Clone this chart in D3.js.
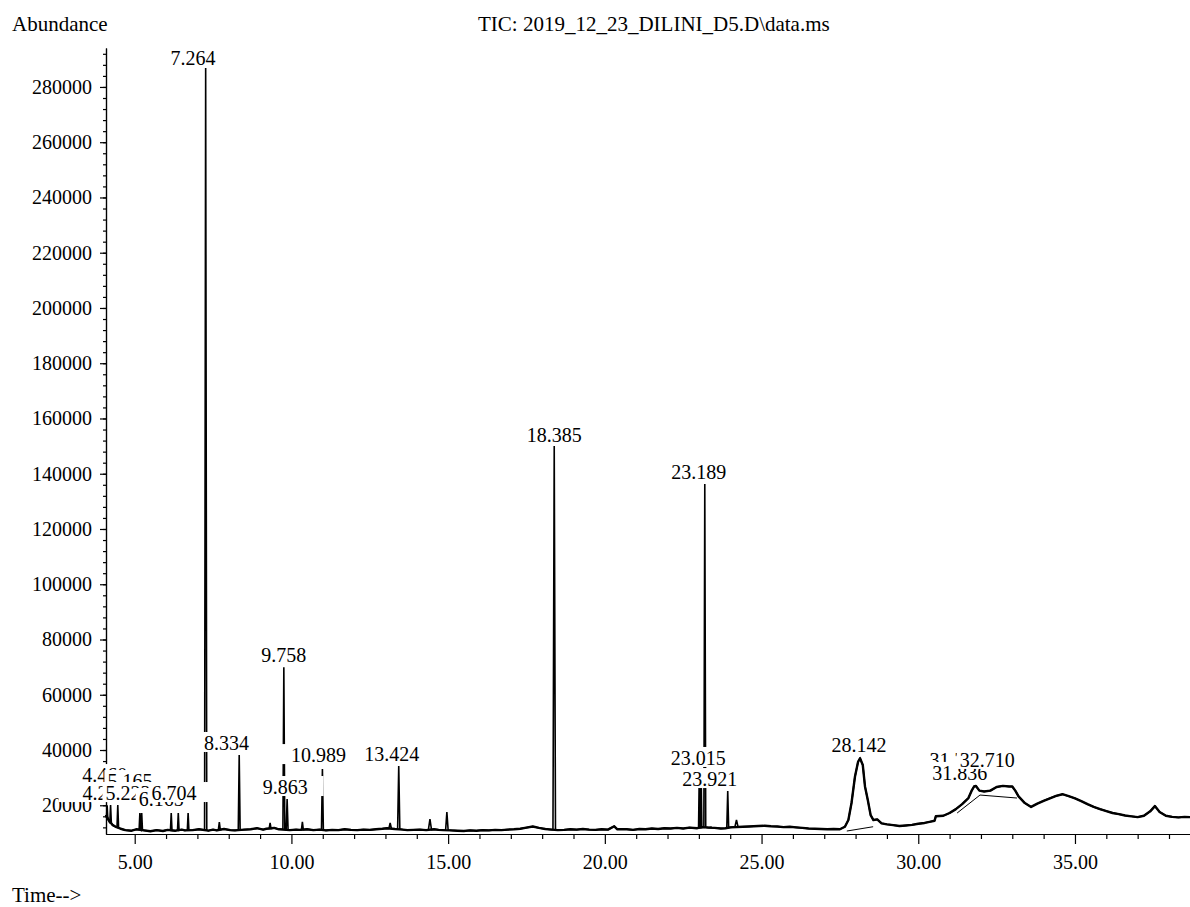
<!DOCTYPE html>
<html>
<head>
<meta charset="utf-8">
<script src="https://cdn.jsdelivr.net/npm/d3@7"></script>
<style>
  body { margin: 0; background: #fff; }
  svg { display: block; font-family: "Liberation Serif", "Times New Roman", serif; }
  .axis path, .axis line { stroke: #000; stroke-width: 1.2; }
  .axis text { fill: #000; font-size: 20px; font-family: "Liberation Serif", "Times New Roman", serif; }
</style>
</head>
<body>
<svg id="chart" width="1190" height="907"></svg>
<script>
// ---------- Data ----------
// baseline of the TIC trace: [time (min), abundance]
const baseline = [
  [4.08,16500],[4.16,14800],[4.3,12800],[4.38,12300],[4.55,11500],[4.7,11000],[4.9,10800],
  [5.05,11300],[5.3,10900],[5.5,10600],[5.7,11000],[5.9,10700],[6.05,11100],[6.3,10800],
  [6.5,11200],[6.6,10900],[6.85,11000],[7.05,11300],[7.35,10800],[7.5,11200],[7.62,10900],
  [7.85,11400],[8.05,11000],[8.2,10900],[8.5,11200],[8.7,11300],[8.9,11700],[9.1,11200],
  [9.2,11500],[9.45,11800],[9.6,11300],[9.95,11000],[10.15,11200],[10.25,11100],[10.5,11300],
  [10.7,11000],[10.9,11200],[11.1,10900],[11.3,11100],[11.5,11000],[11.7,11300],[11.9,11100],
  [12.1,11000],[12.3,11200],[12.5,11100],[12.7,11300],[12.9,11500],[13.05,11700],[13.3,11400],
  [13.55,11200],[13.7,11000],[13.9,11100],[14.1,11200],[14.3,11000],[14.55,11300],[14.7,11100],
  [14.85,11000],[15.1,10900],[15.3,10800],[15.5,10700],[15.7,10900],[15.9,10800],[16.1,11000],
  [16.3,10900],[16.5,11100],[16.7,11000],[16.9,11200],[17.1,11300],[17.3,11500],[17.5,11900],
  [17.7,12300],[17.9,11800],[18.1,11400],[18.3,11200],[18.5,11000],[18.7,11100],[18.9,11300],
  [19.1,11200],[19.3,11400],[19.5,11200],[19.7,11100],[19.9,11300],[20.1,11200],[20.3,12400],
  [20.4,11300],[20.7,11300],[20.9,11100],[21.1,11400],[21.3,11300],[21.5,11600],[21.7,11400],
  [21.9,11700],[22.1,11600],[22.3,11800],[22.5,11600],[22.7,11900],[22.95,11700],[23.12,12100],
  [23.3,11900],[23.5,11800],[23.7,11600],[23.85,11700],[24.0,12000],[24.4,12200],[24.6,12300],
  [24.9,12500],[25.1,12600],[25.3,12400],[25.5,12300],[25.7,12100],[25.9,12200],[26.1,12000],
  [26.3,11800],[26.5,11600],[26.7,11500],[26.9,11400],[27.1,11300],[27.3,11400],[27.5,11300],
  [29.0,13100],[29.2,12800],[29.4,12500],[29.6,12700],[29.8,12900],[30.0,13300],[30.2,13600],
  [30.4,14100],[30.52,14400],[30.56,16000],[30.8,16200],[31.0,17200],[31.2,18600],[31.4,20400],
  [31.6,22600],[31.7,25200],[31.78,26800],[31.84,27000],[31.95,25300],[32.1,25000],[32.3,25300],
  [32.5,26600],[32.7,27000],[32.9,26800],[33.0,26800],[33.1,25200],[33.2,23200],[33.4,20800],
  [33.6,19400],[33.8,20600],[34.0,21600],[34.2,22500],[34.4,23400],[34.6,24000],[34.8,23300],
  [35.0,22500],[35.2,21500],[35.4,20400],[35.6,19400],[35.8,18600],[36.0,17900],[36.2,17200],
  [36.4,16800],[36.6,16300],[36.8,16000],[37.0,15700],[37.2,16200],[37.4,17800],[37.55,19700],
  [37.7,17600],[37.9,16200],[38.1,15800],[38.3,15600],[38.5,15800],[38.7,15700]
];

// narrow peaks: [retention time, apex abundance, local base, half width (min)]
const spikes = [
  [4.12,20000,15500,0.02],[4.23,20080,13500,0.025],[4.46,20080,12000,0.025],
  [5.165,17190,11100,0.025],[5.223,17190,11000,0.025],[6.165,17190,10900,0.025],
  [6.39,17190,10900,0.025],[6.704,17190,11000,0.025],[7.264,286900,11000,0.035],
  [7.7,13900,11200,0.03],[8.334,38200,11000,0.03],[9.32,13600,11500,0.03],
  [9.758,70000,11300,0.03],[9.863,22260,11200,0.03],[10.35,14000,11100,0.03],
  [10.989,33100,11100,0.03],[13.15,13600,11600,0.04],[13.424,34200,11400,0.035],
  [14.42,15000,11100,0.05],[14.96,17500,11000,0.04],[18.385,150000,11200,0.04],
  [23.015,33500,12000,0.025],[23.07,33500,12000,0.025],[23.189,136300,12000,0.03],
  [23.921,25150,11800,0.03],[24.2,14650,12200,0.05]
];

// the broad peak at 28.142
const broadPeak = [
  [27.66,12230],[27.77,14650],[27.87,20810],[27.98,30330],[28.08,35760],[28.142,36990],
  [28.23,34560],[28.3,26830],[28.39,21890],[28.48,16460],[28.57,14650],[28.69,14900],[28.83,13450]
];

// integration baselines drawn by the software
const integrationLines = [
  [[22.92,11650],[23.41,12230]],
  [[27.72,10670],[28.56,12230]],
  [[31.24,17190],[31.97,23700],[33.15,22620]]
];

// peak labels: [text, time, apex abundance]
const peakLabels = [
  ["4.460",4.46,20080],["5.165",5.165,17190],["4.229",4.23,20080],["5.223",5.223,17190],
  ["6.165",6.165,17190],["6.704",6.704,17190],["7.264",7.264,286900],["8.334",8.334,38200],
  ["9.758",9.758,70000],["9.863",9.863,22260],["10.989",10.989,33100],["13.424",13.424,34200],
  ["18.385",18.385,150000],["23.189",23.189,136300],["23.015",23.015,33500],["23.921",23.921,25150],
  ["28.142",28.142,36990],["31.718",31.718,25500],["31.836",31.836,27000],["32.710",32.71,27000]
];

const xMajor = [5, 10, 15, 20, 25, 30, 35];
const yMajor = [20000, 40000, 60000, 80000, 100000, 120000, 140000, 160000, 180000,
                200000, 220000, 240000, 260000, 280000];

// ---------- Layout ----------
// where the software pushed labels to dodge each other: [dx px, dy px from apex, left pad]
const labelNudge = {
  "4.460": [-13, -23], "5.165": [-10, -25], "4.229": [-5.5, -5, 24], "5.223": [-13.7, -13],
  "6.165": [-10, -7], "6.704": [-14, -13], "7.264": [-12.7, -3], "8.334": [-12.7, -5],
  "9.758": [0, -5], "9.863": [-2, -5], "10.989": [-4, -7, 9], "13.424": [-7, -5],
  "18.385": [0, -4], "23.189": [-6, -5], "23.015": [-1, -3], "23.921": [-18, -5],
  "28.142": [-1, -6], "31.718": [-15, -23], "31.836": [-16, -6], "32.710": [-16, -19]
};

const svg = d3.select("#chart");

const x = d3.scaleLinear().domain([4.084, 38.67]).range([106, 1190]);
const y = d3.scaleLinear().domain([9600, 294100]).range([834, 48]);

// ---------- Axes ----------
svg.append("g")
  .attr("class", "axis")
  .attr("transform", "translate(0,834)")
  .call(d3.axisBottom(x).tickValues(d3.range(5, 39).filter(d => d % 5)).tickSize(5).tickSizeOuter(0).tickFormat(""));

svg.append("g")
  .attr("class", "axis")
  .attr("transform", "translate(0,834)")
  .call(d3.axisBottom(x).tickValues(xMajor).tickSize(10).tickSizeOuter(0).tickPadding(11)
    .tickFormat(d3.format(".2f")));

svg.append("g")
  .attr("class", "axis")
  .attr("transform", "translate(106,0)")
  .call(d3.axisLeft(y).tickValues(d3.range(12000, 294000, 4000)).tickSize(3).tickSizeOuter(0).tickFormat(""));

svg.append("g")
  .attr("class", "axis")
  .attr("transform", "translate(106,0)")
  .call(d3.axisLeft(y).tickValues(yMajor).tickSize(6).tickSizeOuter(0).tickPadding(8)
    .tickFormat(d3.format("d")));

// ---------- Trace ----------
const windows = spikes.map(([t, , , w]) => [t - w - 0.015, t + w + 0.015]);
const basePts = baseline.filter(([t]) => !windows.some(([a, b]) => t > a && t < b));
const spikePts = spikes.flatMap(([t, a, b, w]) => [[t - w, b], [t, a], [t + w, b]]);
const trace = basePts.concat(spikePts, broadPeak).sort((p, q) => p[0] - q[0]);

const line = d3.line().x(d => x(d[0])).y(d => y(d[1]));

// noisy baseline band (thicker stroke under the thin trace)
svg.append("path")
  .datum(basePts.concat(broadPeak).sort((p, q) => p[0] - q[0]))
  .attr("d", line)
  .attr("fill", "none")
  .attr("stroke", "#000")
  .attr("stroke-width", 2.4)
  .attr("stroke-linejoin", "round");

svg.append("path")
  .datum(trace)
  .attr("d", line)
  .attr("fill", "none")
  .attr("stroke", "#000")
  .attr("stroke-width", 1.6);

svg.append("g")
  .selectAll("path")
  .data(integrationLines)
  .join("path")
  .attr("d", line)
  .attr("fill", "none")
  .attr("stroke", "#000")
  .attr("stroke-width", 1);

// ---------- Peak labels (white boxes hide what is under them) ----------
const labels = svg.append("g").style("font-size", "20px");
peakLabels.forEach(([txt, t, a]) => {
  const [dx, dy, padL = 3] = labelNudge[txt] || [0, -4];
  const cx = x(t) + dx, by = y(a) + dy;
  const g = labels.append("g");
  const box = g.append("rect").attr("fill", "#fff");
  const label = g.append("text")
    .attr("x", cx).attr("y", by)
    .attr("text-anchor", "middle")
    .text(txt);
  const w = label.node().getComputedTextLength();
  box.attr("x", cx - w / 2 - padL).attr("y", by - 18)
    .attr("width", w + padL + 16).attr("height", 20);
});

// ---------- Titles ----------
svg.append("text").attr("x", 12).attr("y", 31).style("font-size", "21px").text("Abundance");
svg.append("text").attr("x", 478).attr("y", 31).style("font-size", "21px")
  .text("TIC: 2019_12_23_DILINI_D5.D\\data.ms");
svg.append("text").attr("x", 12).attr("y", 902).style("font-size", "21px").text("Time-->");
</script>
</body>
</html>
